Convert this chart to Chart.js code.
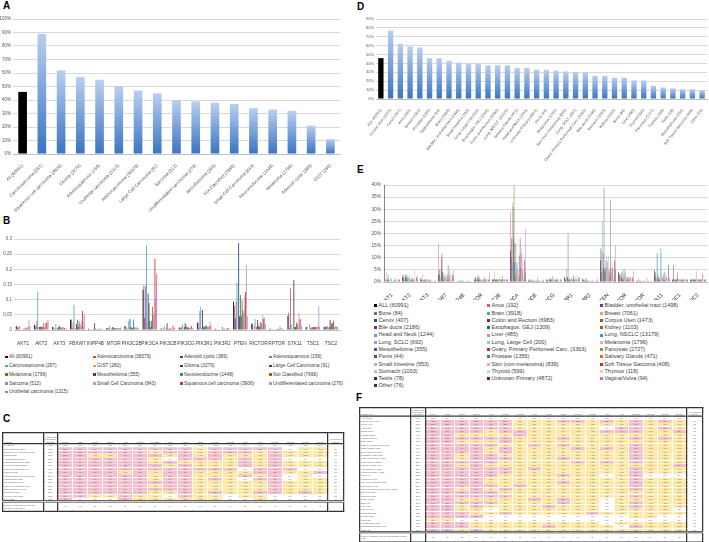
<!DOCTYPE html>
<html>
<head>
<meta charset="utf-8">
<script src="https://cdn.jsdelivr.net/npm/chart.js@4.4.1/dist/chart.umd.min.js"></script>
<style>
  html, body { margin: 0; padding: 0; background: #fff; width: 709px; height: 542px; overflow: hidden; position: relative; }
  .letter { position: absolute; font: bold 10px "Liberation Sans", Arial, sans-serif; color: #000; line-height: 10px; }
  .legend div { position: absolute; white-space: nowrap; color: #404040; font-family: "Liberation Sans", Arial, sans-serif; }
  .legend i { display: inline-block; margin-right: 1.5px; vertical-align: middle; }
  .tbl { position: absolute; transform-origin: 0 0; transform: scale(0.25); }
  .tbl table { border-collapse: collapse; table-layout: fixed; font: 9px "Liberation Sans", Arial, sans-serif; color: #555; border: 5px solid #333; }
  .tbl td { padding: 0; text-align: center; overflow: hidden; white-space: nowrap; border-top: 1px solid #fff; border-bottom: 1px solid #fff; border-left: 3px solid #fff; border-right: 3px solid #fff; }
  .tbl tr.hd td { border-bottom: 5px solid #333; white-space: normal; line-height: 9px; vertical-align: bottom; font-size: 8px; }
  .tbl tr.ft td { border-top: 9px double #333; white-space: normal; line-height: 9px; font-size: 8px; }
  .tbl td.c0 { text-align: left; padding-left: 3px; border-right: 5px solid #333; font-size: 8.5px; }
  .tbl td.cp { border-right: 5px solid #333; }
  .tbl td.cl { border-left: 5px solid #333; }
</style>
</head>
<body>
<div class="letter" style="left:3px;top:1px">A</div>
<div class="letter" style="left:3px;top:216px">B</div>
<div class="letter" style="left:3px;top:414px">C</div>
<div class="letter" style="left:357px;top:2px">D</div>
<div class="letter" style="left:357px;top:165px">E</div>
<div class="letter" style="left:356px;top:393px">F</div>
<div id="legB" class="legend"></div>
<div id="legE" class="legend"></div>
<div id="tblC" class="tbl" style="left:2px;top:432px"></div>
<div id="tblF" class="tbl" style="left:359px;top:407px"></div>
<script>
const genes = ['AKT1', 'AKT2', 'AKT3', 'FBXW7', 'INPP4B', 'MTOR', 'PIK3C2B', 'PIK3CA', 'PIK3CB',
  'PIK3CG', 'PIK3R1', 'PIK3R2', 'PTEN', 'RICTOR', 'RPTOR', 'STK11', 'TSC1', 'TSC2'];

// column order used in the two tables
const tableGenes = ['PIK3CA', 'PTEN', 'STK11', 'FBXW7', 'AKT2', 'PIK3R1', 'PIK3C2B', 'TSC1', 'TSC2',
  'MTOR', 'PIK3CG', 'PIK3CB', 'AKT1', 'AKT3', 'RICTOR', 'INPP4B', 'PIK3R2', 'RPTOR'];

// panel A: % of cases with a PI3K pathway alteration, by histology
const histLabels = ['All (60991)', 'Carcinosarcoma (297)', 'Squamous cell carcinoma (3906)', 'Glioma (3279)',
  'Adenosquamous (159)', 'Urothelial carcinoma (1315)', 'Adenocarcinoma (38379)', 'Large Cell Carcinoma (91)',
  'Sarcoma (512)', 'Undifferentiated carcinoma (276)', 'Mesothelioma (355)', 'Not Classified (7666)',
  'Small Cell Carcinoma (843)', 'Neuroendocrine (1448)', 'Melanoma (1796)', 'Adenoid cystic (389)', 'GIST (280)'];
const histPct = [46, 89, 62, 57, 55, 50, 47, 45, 40, 39, 38, 37, 34, 33, 32, 21, 11];

// panel B: series (legend order) and fraction altered per gene
const histSeries = ['All (60991)', 'Adenocarcinoma (38379)', 'Adenoid cystic (389)', 'Adenosquamous (159)',
  'Carcinosarcoma (297)', 'GIST (280)', 'Glioma (3279)', 'Large Cell Carcinoma (91)',
  'Melanoma (1796)', 'Mesothelioma (355)', 'Neuroendocrine (1448)', 'Not Classified (7666)',
  'Sarcoma (512)', 'Small Cell Carcinoma (843)', 'Squamous cell carcinoma (3906)', 'Undifferentiated carcinoma (276)',
  'Urothelial carcinoma (1315)'];
const histColors = ['#111111', '#C8504D', '#7030A0', '#8C72B0', '#4BACC6', '#F79646', '#1F497D', '#7B2C2A',
  '#5F7530', '#4D3B62', '#31859C', '#B65708', '#729ACA', '#E6908E', '#E5262B', '#A89BC8', '#CC5FCC'];
const histByGene = [
  [.013, .012, .005, .01, .013, 0, .002, 0, .005, 0, .004, .008, .005, .007, .01, .033, .012],      // AKT1
  [.017, .015, .01, .03, .125, .01, .01, .01, .012, .01, .01, .022, .008, .022, .025, .02, .035],   // AKT2
  [.01, .008, .003, .005, .02, .004, .005, .01, .015, .01, .005, .008, .01, .008, .007, .005, .005],// AKT3
  [.034, .035, .005, .025, .083, 0, .005, .02, .035, .01, .03, .02, .01, .03, .063, .015, .05],     // FBXW7
  [.004, .003, 0, 0, 0, 0, .003, .022, .004, 0, .003, .004, .004, .003, .004, 0, .003],             // INPP4B
  [.007, .006, .005, .012, .003, .004, .005, .01, .008, .006, .005, .007, .006, .005, .007, .005, .008], // MTOR
  [.013, .012, .003, .005, .03, .004, .036, .01, .008, .006, .035, .01, .008, .006, .008, .004, .006],  // PIK3C2B
  [.133, .147, .04, .145, .28, .025, .12, .09, .03, .01, .03, .077, .05, .06, .235, .10, .185],     // PIK3CA
  [.005, .005, 0, .005, .012, 0, .004, .022, .004, .003, .005, .005, .004, .005, .013, .004, .007], // PIK3CB
  [.008, .008, .005, .01, .02, .004, .01, .022, .015, .01, .008, .008, .007, .008, .013, .008, .006], // PIK3CG
  [.025, .022, .005, .063, .077, .005, .066, .01, .012, .01, .015, .015, .01, .01, .012, .028, .015], // PIK3R1
  [.004, .003, 0, 0, .003, 0, .002, 0, .01, .003, .003, .004, .003, .004, .007, .006, .005],        // PIK3R2
  [.093, .08, .038, .093, .157, 0, .287, .045, .115, .045, .097, .065, .055, .11, .125, .215, .045], // PTEN
  [.02, .022, 0, .015, .037, 0, .01, .033, .015, .01, .025, .025, .02, .05, .037, .04, .02],        // RICTOR
  [.004, .004, 0, 0, .003, 0, .002, 0, .003, .003, .003, .004, .012, .004, .006, 0, .003],          // RPTOR
  [.047, .057, .005, .137, .017, 0, .003, .165, .01, .01, .025, .02, .01, .057, .035, .037, .012],  // STK11
  [.01, .009, 0, 0, .017, .007, .005, .01, .008, .01, .01, .01, .01, .01, .012, .08, .01],          // TSC1
  [.01, .01, .012, .01, .013, .007, .01, .033, .01, .022, .022, .03, .01, .012, .012, .01, .008]    // TSC2
];

// panel D: % of cases with a PI3K pathway alteration, by disease type
const diseaseLabels = ['ALL (60991)', 'Corpus Uteri (1473)', 'Cervix (407)', 'Anus (192)', 'Breast (7061)',
  'Prostate (1356)', 'Vagina/Vulva (94)', 'Brain (3918)', 'Bladder, urothelial tract (1498)', 'Small Intestine (553)',
  'Lung, Large Cell (200)', 'Esophagus, GEJ (1309)', 'Colon and Rectum (6983)', 'Lung, NSCLC (13179)',
  'Salivary Glands (471)', 'Head and Neck (1244)', 'Unknown Primary (4872)', 'Penis (44)', 'Melanoma (1796)',
  'Skin (non-melanoma) (839)', 'Lung, SCLC (692)', 'Ovary, Primary Peritoneal Carc. (3363)', 'Bile ducts (2186)',
  'Stomach (1003)', 'Kidney (1103)', 'Bone (84)', 'Liver (485)', 'Thyroid (599)', 'Pancreas (2727)',
  'Thymus (118)', 'Testis (78)', 'Mesothelioma (355)', 'Soft Tissue Sarcoma (408)', 'Other (76)'];
const diseasePct = [46, 77, 62, 59, 58, 46, 46, 43, 41, 40, 40, 38, 38, 38, 35, 35, 33, 33, 32, 31, 30, 30,
  26, 26, 24, 24, 21, 21, 15, 13, 12, 11, 11, 10];

// panel E: series (legend order) and % altered per gene
const diseaseSeries = ['ALL (60991)', 'Anus (192)', 'Bladder, urothelial tract (1498)', 'Bone (84)', 'Brain (3918)',
  'Breast (7061)', 'Cervix (407)', 'Colon and Rectum (6983)', 'Corpus Uteri (1473)', 'Bile ducts (2186)',
  'Esophagus, GEJ (1309)', 'Kidney (1103)', 'Head and Neck (1244)', 'Liver (485)', 'Lung, NSCLC (13179)',
  'Lung, SCLC (692)', 'Lung, Large Cell (200)', 'Melanoma (1796)', 'Mesothelioma (355)',
  'Ovary, Primary Peritoneal Carc. (3363)', 'Pancreas (2727)', 'Penis (44)', 'Prostate (1356)',
  'Salivary Glands (471)', 'Small Intestine (553)', 'Skin (non-melanoma) (839)', 'Soft Tissue Sarcoma (408)',
  'Stomach (1003)', 'Thyroid (599)', 'Thymus (118)', 'Testis (78)', 'Unknown Primary (4872)',
  'Vagina/Vulva (94)', 'Other (76)'];
const diseaseColors = ['#000000', '#D9605A', '#7030A0', '#8064A2', '#4BACC6', '#F79646', '#2C4D75', '#772C2A',
  '#5F7530', '#4D3B62', '#276A7C', '#B65708', '#729ACA', '#DA8A8A', '#1FA0DB', '#A993C8', '#8FCBDA', '#F4B183',
  '#3C5A9A', '#B03A3A', '#77A040', '#5B3F8A', '#31859C', '#E46C0A', '#9DB9E0', '#E8A8A8', '#E02020', '#C5B8DD',
  '#A9DCE6', '#F9C9A0', '#1F3864', '#632523', '#CC66CC', '#3F3151'];
const diseaseByGene = [
  [40, 0, 1, 0, .5, 4, 1, 1, 3, 1, .5, 0, 1, 0, 2, 1, 1, .5, 0, .5, .3, 0, 1, 1, 2, 1, .5, 1, 0, 0, 0, 1, 1, 1],      // AKT1
  [2, 3, 2, 3, 1, 1, 2, 3, 2, 2, 3, 1, 2, 1, 2, 3, 1, 1, 1, 1, 1, 2, 1, 1, 1, 1, 1, 5, 0, 0, 0, 2, 2.5, 1],           // AKT2
  [1, 2, 1, 1, 1, 3.5, .5, .5, 1, .5, 1, 1, 1, .5, 1, 1, .5, 1, 1, .5, .5, 1, .5, .5, .5, .5, 0, .5, .5, 0, 0, .5, .5, .5], // AKT3
  [3, 16, 5, 3, 1, 2, 5, 10, 12, 4, 3, 1, 4, 2, 2, 3, 3, 2, 1, 3, 1, 7, 1, 3, 5, 3, 1, 4, .5, 2, 0, 3, 5, 2],         // FBXW7
  [0, .3, .3, .5, .5, .2, .3, .5, .5, .3, .5, .3, .8, .3, .5, .5, .8, .3, .2, .3, .3, 0, .3, .5, .5, 1, .3, .5, .3, .2, 0, .3, .3, .3], // INPP4B
  [1, 1, 2, 2, 1, 1, 1, 2, 3, 1, 1, 2, 1, 1, 1, 1, 1, 1, .5, 1, .5, 2, 1, 1, 1, 2, 1, 1, 1, 0, 0, 1, 4, 1],           // MTOR
  [1, 1, 1, 1, 1, 4.5, 1, 1, 1, 1, 1, 1, 1, 1, 1, 2, 1, 1, 1, 1, 1, 1, 2.5, 1, 1, 1, 1, 1, 1, 0, 0, 1, 1, 1],         // PIK3C2B
  [13, 29, 18, 10, 8, 33, 31, 18, 40, 8, 16, 3, 16, 5, 8, 5, 8, 5, 2, 11, 3, 18, 6, 12, 12, 14, 5, 10, 4, 2, 1, 9, 22, 4], // PIK3CA
  [.5, 1, 1, .5, 1, .5, .5, .5, 1, .5, .5, .5, .5, .5, .5, .5, .5, .5, .5, .5, 2, .5, .5, .5, .5, .5, .5, .5, .5, 0, 0, .5, 1, .5], // PIK3CB
  [1, .5, 1, .5, .5, .5, 1, 1, 2, 1, 1, 1, 1, 1, 2.5, 1, 1, 1, .5, 1, .5, 1, 1, 1, 1.5, 1, .5, 1, .5, 0, 0, 1, 1, .5],  // PIK3CG
  [2, 2, 1, 1, 5.5, 2, 2, 2, 20, 1, 1, 1, 2, 1, 1, 1, 2, 1, 1, 2, 3, 1, 1, 1, 2, 1, 1, 3, 1, 0, 0, 2, 2, 1],          // PIK3R1
  [1, 1.5, 1, .5, .5, .5, 1, .5, 1.5, .5, .5, .5, .5, .5, .5, .5, .5, .5, .3, .5, .3, 0, .5, .5, .5, .5, .3, .5, .3, 0, 0, .5, 1.5, .5], // PIK3R2
  [9, 14, 4, 13, 25, 5, 12, 6, 39, 5, 4, 6, 9, 11, 6, 8, 9, 11, 5, 4, 2, 6, 34, 5, 4, 9, 6, 5, 3, 2, 1, 9, 15, 5],    // PTEN
  [4, 4, 3, 3, 1, 3, 4, 2, 2, 1, 5, 1, 3, 2, 5.5, 4, 3, 2, 1, 2, 1, 2, 1, 1, 2, 2, 2, 2, .5, 1, 0, 2, 4.5, 1],        // RICTOR
  [.5, .5, .3, .5, .3, 2, .3, .5, .5, .3, .5, .3, .3, .3, .5, .5, .3, .8, .3, .3, .3, 0, .3, 1.8, .3, .3, .5, .3, 0, 0, 0, .3, .5, .3], // RPTOR
  [5, 3, 4, 2, 1, 2, 12, 1, 3, 2, 1, 1, 2, 1, 14, 3, 12, 2, 2, 1, 3, 4, 1, 1, 4, 2, 2, 2, 1, 2, 0, 7, 2, 1],          // STK11
  [1, 1, 7, 1, 1, 1, 1, 1, 1, 1, 1, 4, 2, 1, 1, 1, 1, 1, 1, 1, 1, 1, 1, 1, 1, 1, 1, 1, 1, 0, 0, 1, 1, 1],             // TSC1
  [1, 1, 1, 1, 1, 1, 1, 1, 1, 1, 1, 1, 1, 4.5, 1, 1, 1, 1, 1, 1, 1, 1, 1, 1, 1, 1, 3.5, 1, 1, 0, 0, 1, 1, 1]          // TSC2
];

const PINK = '#F4BFCD';
const YELLOW = '#FEE7A0';

Chart.defaults.font.family = '"Liberation Sans", Arial, sans-serif';
Chart.defaults.color = '#595959';
Chart.defaults.animation = false;
Chart.defaults.responsive = false;
Chart.defaults.plugins.legend.display = false;
Chart.defaults.plugins.tooltip.enabled = false;

function makeCanvas(left, top, w, h) {
  const c = document.createElement('canvas');
  c.width = w;
  c.height = h;
  c.style.cssText = `position:absolute;left:${left}px;top:${top}px;width:${w}px;height:${h}px`;
  document.body.appendChild(c);
  return c;
}

// Excel style gradient per bar, first bar (ALL) black
function blueFill(ctx) {
  if (ctx.dataIndex === 0) return '#000';
  const chart = ctx.chart;
  if (!chart.chartArea || !ctx.parsed) return '#6a9ad8';
  const y = chart.scales.y;
  const top = y.getPixelForValue(ctx.parsed.y);
  const base = y.getPixelForValue(0);
  const g = chart.ctx.createLinearGradient(0, top, 0, base);
  g.addColorStop(0, '#b9cfef');
  g.addColorStop(1, '#3a74c2');
  return g;
}

function yAxis(max, step, width, size, fmt) {
  return {
    min: 0, max: max,
    ticks: { stepSize: step, font: { size: size }, padding: 2, callback: fmt },
    grid: { color: '#d9d9d9', drawTicks: false },
    border: { display: false },
    afterFit(s) { s.width = width; }
  };
}

// A
new Chart(makeCanvas(0, 14, 345, 200), {
  type: 'bar',
  data: { labels: histLabels, datasets: [{ data: histPct, backgroundColor: blueFill, barPercentage: 0.45, categoryPercentage: 1 }] },
  options: {
    layout: { padding: { top: 5, right: 5 } },
    scales: {
      x: { grid: { display: false }, border: { color: '#bfbfbf' },
        ticks: { autoSkip: false, minRotation: 45, maxRotation: 45, font: { size: 4.5 }, padding: 1 },
        afterFit(s) { s.height = 60; } },
      y: yAxis(100, 10, 13, 4.5, v => v + '%')
    }
  }
});

// B
const chartB = new Chart(makeCanvas(0, 234, 350, 112), {
  type: 'bar',
  data: {
    labels: genes,
    datasets: histSeries.map((name, i) => ({
      label: name, data: histByGene.map(r => r[i]), backgroundColor: histColors[i],
      barPercentage: 1, categoryPercentage: 0.8
    }))
  },
  options: {
    layout: { padding: { top: 5, right: 10 } },
    scales: {
      x: { grid: { display: false }, border: { color: '#bfbfbf' },
        ticks: { autoSkip: false, minRotation: 0, maxRotation: 0, font: { size: 4.8 }, color: '#404040', padding: 3 },
        afterFit(s) { s.height = 16; } },
      y: yAxis(0.3, 0.05, 14, 4.5, v => String(+v.toFixed(2)))
    }
  }
});

// D
new Chart(makeCanvas(355, 12, 354, 162), {
  type: 'bar',
  data: { labels: diseaseLabels, datasets: [{ data: diseasePct, backgroundColor: blueFill, barPercentage: 0.55, categoryPercentage: 1 }] },
  options: {
    layout: { padding: { top: 7, right: 2 } },
    scales: {
      x: { grid: { display: false }, border: { color: '#bfbfbf' },
        ticks: { autoSkip: false, minRotation: 52, maxRotation: 52, font: { size: 3.8 }, padding: 1 },
        afterFit(s) { s.height = 75; } },
      y: yAxis(90, 10, 21, 4, v => v + '%')
    }
  }
});

// E
const chartE = new Chart(makeCanvas(355, 180, 354, 124), {
  type: 'bar',
  data: {
    labels: genes,
    datasets: diseaseSeries.map((name, i) => ({
      label: name, data: diseaseByGene.map(r => r[i]), backgroundColor: diseaseColors[i],
      barPercentage: 1, categoryPercentage: 0.88
    }))
  },
  options: {
    layout: { padding: { top: 5, right: 2, bottom: 4 } },
    scales: {
      x: { grid: { display: false }, border: { color: '#bfbfbf' },
        ticks: { autoSkip: false, minRotation: 45, maxRotation: 45, font: { size: 5.4 }, color: '#262626', padding: 2 },
        afterFit(s) { s.height = 18; } },
      y: yAxis(40, 5, 28, 4.8, v => v + '%')
    }
  }
});

function htmlLegend(id, chart, xs, y0, dy, size, box) {
  const el = document.getElementById(id);
  chart.data.datasets.forEach((ds, i) => {
    const d = document.createElement('div');
    const col = i % xs.length, row = Math.floor(i / xs.length);
    d.style.left = xs[col] + 'px';
    d.style.top = (y0 + row * dy - size * 0.6) + 'px';
    d.style.fontSize = size + 'px';
    d.style.lineHeight = (size * 1.2) + 'px';
    d.innerHTML = `<i style="width:${box}px;height:${box}px;background:${ds.backgroundColor}"></i>${ds.label}`;
    el.appendChild(d);
  });
}
htmlLegend('legB', chartB, [5, 93, 180, 269], 357.3, 8.7, 4.8, 2.6);
htmlLegend('legE', chartE, [374, 487, 600], 305.7, 7.27, 5.5, 3);

// tables C and F are built from the same per-gene data
function cellText(v) {
  if (v === 0) return '0%';
  return v < 1 ? '&lt;1%' : Math.round(v) + '%';
}
function buildTable(id, o) {
  const gi = tableGenes.map(g => genes.indexOf(g));
  const rowVals = o.rows.map(name => {
    const s = o.series.findIndex(n => n.toLowerCase() === name.toLowerCase());
    return gi.map(g => o.values[g][s] * o.scale);
  });
  let h = `<table style="width:${o.width}px"><colgroup><col style="width:${o.w0}px"><col style="width:${o.wp}px">`;
  h += tableGenes.map(() => `<col style="width:${o.wg}px">`).join('') + `<col style="width:${o.wl}px"></colgroup>`;
  h += `<tr class="hd" style="height:${o.headH}px"><td class="c0">${o.title}</td><td class="cp">% Cases with PI3 pathway alteration</td>`;
  h += tableGenes.map(g => `<td>${g}</td>`).join('') + `<td class="cl">${o.countTitle}</td></tr>`;
  rowVals.forEach((vals, r) => {
    const n = vals.filter(v => v > 0).length;
    h += `<tr style="height:${o.rowH}px"><td class="c0">${o.rows[r]}</td><td class="cp">${o.pct[r]}%</td>`;
    h += vals.map(v => {
      const bg = r === 0 || v === 0 ? '#fff' : (v >= o.pinkMin ? PINK : YELLOW);
      return `<td style="background:${bg}">${cellText(v)}</td>`;
    }).join('');
    h += `<td class="cl">${r === 0 ? '' : n}</td></tr>`;
  });
  const counts = gi.map((g, c) => rowVals.slice(1).filter(vals => vals[c] > 0).length);
  h += `<tr class="ft" style="height:${o.footH}px"><td class="c0">${o.footer}</td><td class="cp"></td>`;
  h += counts.map(n => `<td>${n}</td>`).join('') + '<td class="cl"></td></tr></table>';
  document.getElementById(id).innerHTML = h;
}

buildTable('tblC', {
  rows: histLabels, pct: histPct, series: histSeries, values: histByGene, scale: 100, pinkMin: 1,
  title: 'Histology', countTitle: '# of 18 Genes altered',
  footer: 'Number of histologies (at least one alteration in listed gene)',
  width: 1364, w0: 164, wp: 56, wg: 60, wl: 64, headH: 44, rowH: 13.5, footH: 40
});
buildTable('tblF', {
  rows: diseaseLabels, pct: diseasePct, series: diseaseSeries, values: diseaseByGene, scale: 1, pinkMin: 1.5,
  title: 'Disease Type', countTitle: '# of 18 genes altered',
  footer: 'Number of disease types (all with alteration in listed gene)',
  width: 1372, w0: 204, wp: 60, wg: 58, wl: 64, headH: 34, rowH: 13.6, footH: 40
});
</script>
</body>
</html>
